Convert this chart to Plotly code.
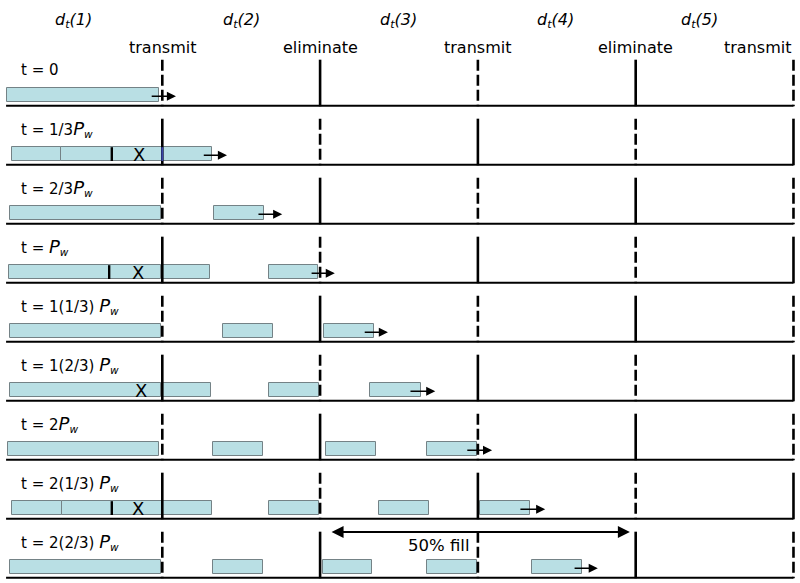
import plotly.graph_objects as go

# ---------------- data (x in "third-of-period" units, y = row index) ----------------
PW = "<i><span style='font-size:18px'>P</span><sub>w</sub></i>"
row_labels = [
    "t = 0",
    "t = 1/3" + PW,
    "t = 2/3" + PW,
    "t = " + PW,
    "t = 1(1/3) " + PW,
    "t = 1(2/3) " + PW,
    "t = 2" + PW,
    "t = 2(1/3) " + PW,
    "t = 2(2/3) " + PW,
]

header_labels = ["<i>d<sub>t</sub>(1)</i>", "<i>d<sub>t</sub>(2)</i>", "<i>d<sub>t</sub>(3)</i>",
                 "<i>d<sub>t</sub>(4)</i>", "<i>d<sub>t</sub>(5)</i>"]
header_x = [1.32, 4.50, 7.50, 10.48, 13.22]

boundary_x = [3, 6, 9, 12, 15]
boundary_labels = ["transmit", "eliminate", "transmit", "eliminate", "transmit"]

bar_row = [0,
           1, 1,
           2, 2,
           3, 3, 3,
           4, 4, 4,
           5, 5, 5, 5,
           6, 6, 6, 6,
           7, 7, 7, 7, 7,
           8, 8, 8, 8, 8]
bar_start = [0.05,
             0.14, 1.07,
             0.10, 3.98,
             0.09, 2.98, 5.03,
             0.11, 4.15, 6.07,
             0.11, 2.98, 5.03, 6.95,
             0.07, 3.96, 6.11, 8.03,
             0.14, 1.09, 5.03, 7.12, 9.04,
             0.10, 3.96, 6.06, 8.03, 10.03]
bar_end = [2.94,
           1.07, 3.95,
           2.98, 4.93,
           2.98, 3.91, 5.96,
           2.98, 5.11, 7.03,
           2.98, 3.93, 5.98, 7.92,
           2.94, 4.91, 7.06, 8.98,
           1.09, 3.95, 5.98, 8.07, 9.99,
           2.98, 4.91, 6.99, 8.98, 10.98]

arrow_start = [2.77, 3.76, 4.80, 5.81, 6.82, 7.69, 8.77, 9.78, 10.81]
arrow_end = [3.26, 4.23, 5.28, 6.28, 7.29, 8.19, 9.27, 10.28, 11.28]

tick_row = [1, 3, 7]
tick_x = [2.04, 1.99, 2.04]

cross_row = [1, 3, 5, 7]
cross_x = [2.56, 2.54, 2.60, 2.54]

fill_span = [6.19, 11.89]
fill_label = "50% fill"

# ---------------- geometry / style ----------------
BAR_OFF = -0.18     # bar centre relative to baseline (row units)
BAR_H = 0.234
ARROW_OFF = -0.16
VLINE_TOP = -0.78
FILL = "#b9dfe4"
EDGE = "#748286"
FONT = "DejaVu Sans"

fig = go.Figure()

# bars
fig.add_trace(go.Bar(
    orientation="h",
    y=[r + BAR_OFF for r in bar_row],
    base=bar_start,
    x=[e - s for s, e in zip(bar_start, bar_end)],
    width=BAR_H,
    marker=dict(color=FILL, line=dict(color=EDGE, width=1)),
    hoverinfo="skip", showlegend=False,
))

# baselines
bx, by = [], []
for r in range(len(row_labels)):
    bx += [0.03, 15.0, None]
    by += [r, r, None]
fig.add_trace(go.Scatter(x=bx, y=by, mode="lines", line=dict(color="black", width=2),
                         hoverinfo="skip", showlegend=False))

# vertical boundary lines (alternating solid / dashed per row)
sx, sy, dx, dy = [], [], [], []
for r in range(len(row_labels)):
    for k, xv in enumerate(boundary_x):
        dashed = (k % 2 == 0) == (r % 2 == 0)
        xs, ys = ([xv, xv, None], [r + VLINE_TOP, r + 0.01, None])
        if dashed:
            dx += xs; dy += ys
        else:
            sx += xs; sy += ys
fig.add_trace(go.Scatter(x=sx, y=sy, mode="lines", line=dict(color="black", width=2.6),
                         hoverinfo="skip", showlegend=False))
fig.add_trace(go.Scatter(x=dx, y=dy, mode="lines", line=dict(color="black", width=2.6, dash="11px,4px"),
                         hoverinfo="skip", showlegend=False))

# blue segment where the bar covers the line in row 1
fig.add_trace(go.Scatter(x=[boundary_x[0], boundary_x[0]],
                         y=[1 + BAR_OFF - BAR_H / 2, 1 + BAR_OFF + BAR_H / 2],
                         mode="lines", line=dict(color="#3b45a8", width=2),
                         hoverinfo="skip", showlegend=False))

# tick marks inside bars
tx, ty = [], []
for r, xv in zip(tick_row, tick_x):
    tx += [xv, xv, None]
    ty += [r + BAR_OFF - BAR_H / 2, r + BAR_OFF + BAR_H / 2, None]
fig.add_trace(go.Scatter(x=tx, y=ty, mode="lines", line=dict(color="black", width=2.4),
                         hoverinfo="skip", showlegend=False))

ann = []
# arrows
for r, (s, e) in enumerate(zip(arrow_start, arrow_end)):
    ann.append(dict(x=e, y=r + ARROW_OFF, ax=s, ay=r + ARROW_OFF, xref="x", yref="y",
                    axref="x", ayref="y", text="", showarrow=True, arrowhead=2,
                    arrowsize=1.3, arrowwidth=1.4, arrowcolor="black"))
# 50% fill double arrow
ann.append(dict(x=fill_span[1], y=8 - 0.775, ax=fill_span[0], ay=8 - 0.775, xref="x", yref="y",
                axref="x", ayref="y", text="", showarrow=True, arrowhead=2, startarrowhead=2,
                arrowside="end+start", arrowsize=1.2, startarrowsize=1.2, arrowwidth=2, arrowcolor="black"))
ann.append(dict(x=(fill_span[0] + fill_span[1]) / 2 - 0.78, y=8 - 0.55, xref="x", yref="y",
                text=fill_label, showarrow=False, font=dict(family=FONT, size=16.5, color="black")))

# crosses
for r, xv in zip(cross_row, cross_x):
    ann.append(dict(x=xv, y=r + BAR_OFF, xref="x", yref="y", text="X", showarrow=False,
                    font=dict(family=FONT, size=18, color="black")))

# row labels
for r, lab in enumerate(row_labels):
    ann.append(dict(x=0.27, y=r - 0.61, xref="x", yref="y", text=lab, showarrow=False,
                    xanchor="left", yanchor="middle", font=dict(family=FONT, size=15, color="black")))

# headers
for xv, lab in zip(header_x, header_labels):
    ann.append(dict(x=xv, y=-1.45, xref="x", yref="y", text=lab, showarrow=False,
                    font=dict(family=FONT, size=16, color="black")))

# boundary labels
for k, (xv, lab) in enumerate(zip(boundary_x, boundary_labels)):
    last = k == len(boundary_x) - 1
    ann.append(dict(x=xv, y=-0.99, xref="x", yref="y", text=lab, showarrow=False,
                    xanchor="right" if last else "center",
                    font=dict(family=FONT, size=16, color="black")))

fig.update_layout(
    width=800, height=583,
    margin=dict(l=0, r=0, t=0, b=0),
    paper_bgcolor="white", plot_bgcolor="white",
    xaxis=dict(range=[-0.0856, 15.124], visible=False, fixedrange=True),
    yaxis=dict(range=[8.0898, -1.7915], visible=False, fixedrange=True),
    annotations=ann,
    showlegend=False,
    bargap=0,
)

fig.write_html("out.html", config={"displayModeBar": False},
               post_script="document.body.style.margin='0';document.body.style.overflow='hidden';")
